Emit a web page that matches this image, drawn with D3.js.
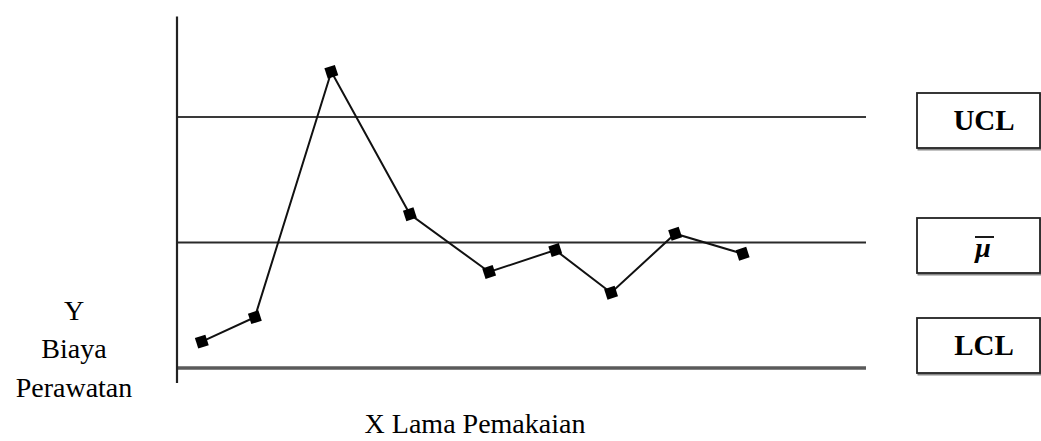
<!DOCTYPE html>
<html>
<head>
<meta charset="utf-8">
<script src="https://cdn.jsdelivr.net/npm/d3@7/dist/d3.min.js"></script>
<style>
  html, body { margin: 0; padding: 0; background: #fff; }
  svg { display: block; }
  text { font-family: "Liberation Serif", "Times New Roman", serif; fill: #000; }
</style>
</head>
<body>
<svg id="chart" width="1041" height="441"></svg>
<script>
// ---- data ----
const xValues = [3.6, 11.3, 22.4, 33.8, 45.3, 54.9, 63.0, 72.3, 82.1];
const yValues = [1.42, 1.81, 5.72, 3.45, 2.53, 2.88, 2.20, 3.14, 2.82];
const limitNames = ["UCL", "mean", "LCL"];
const limitValues = [5, 3, 1];
const limitLabels = ["UCL", "μ", "LCL"];
const xDomain = [0, 100];
const yAxisExtent = [0.76, 6.6];
const yLabelLines = ["Y", "Biaya", "Perawatan"];
const xLabel = "X Lama Pemakaian";

// ---- layout ----
const svg = d3.select("#chart");
const x = d3.scaleLinear().domain(xDomain).range([177, 866]);
const y = d3.scaleLinear().domain([1, 5]).range([368, 117]);

// control limit lines
const limStyle = {
  UCL: { stroke: "#3a3a3a", width: 2 },
  mean: { stroke: "#2a2a2a", width: 2 },
  LCL: { stroke: "#5a5a5a", width: 3.5 }
};
svg.append("g").selectAll("line")
  .data(limitNames.map((n, i) => ({ name: n, v: limitValues[i] })))
  .join("line")
  .attr("x1", x(xDomain[0])).attr("x2", x(xDomain[1]))
  .attr("y1", d => y(d.v)).attr("y2", d => y(d.v))
  .attr("stroke", d => limStyle[d.name].stroke)
  .attr("stroke-width", d => limStyle[d.name].width);

// y axis line (no ticks)
const yAxis = d3.axisLeft(y.copy().domain(yAxisExtent).range([383, 16])).ticks(0).tickSizeOuter(0);
const ya = svg.append("g").attr("transform", `translate(${x(xDomain[0])},0)`).call(yAxis);
ya.select(".domain").attr("d", `M0,${y(yAxisExtent[0])}V${y(yAxisExtent[1])}`)
  .attr("stroke", "#222").attr("stroke-width", 2.2);

// data line
const pts = xValues.map((v, i) => [x(v), y(yValues[i])]);
svg.append("path")
  .attr("d", d3.line()(pts))
  .attr("fill", "none").attr("stroke", "#111").attr("stroke-width", 2);

// markers
svg.append("g").selectAll("rect")
  .data(pts).join("rect")
  .attr("x", -5.5).attr("y", -5.5).attr("width", 11).attr("height", 11)
  .attr("transform", d => `translate(${d[0]},${d[1]}) rotate(-18)`)
  .attr("fill", "#000");

// label boxes
const boxTops = { UCL: 93, mean: 218, LCL: 318 };
const boxX = 917, boxW = 123, boxH = 55;
const boxes = svg.append("g").selectAll("g")
  .data(limitNames.map((n, i) => ({ name: n, label: limitLabels[i] })))
  .join("g")
  .attr("transform", d => `translate(${boxX},${boxTops[d.name]})`);
boxes.append("rect")
  .attr("x", 1.5).attr("y", 1.5).attr("width", boxW).attr("height", boxH)
  .attr("fill", "none").attr("stroke", "#888").attr("stroke-width", 2);
boxes.append("rect")
  .attr("x", 0).attr("y", 0).attr("width", boxW).attr("height", boxH)
  .attr("fill", "#fff").attr("stroke", "#222").attr("stroke-width", 1.8);
boxes.append("text")
  .attr("x", d => d.name === "mean" ? 66 : 67)
  .attr("y", d => d.name === "mean" ? 39 : 37)
  .attr("text-anchor", "middle")
  .attr("font-size", d => d.name === "mean" ? 28 : 29)
  .attr("font-weight", "bold")
  .attr("font-style", d => d.name === "mean" ? "italic" : "normal")
  .text(d => d.label);
boxes.filter(d => d.name === "mean").append("line")
  .attr("x1", 58).attr("x2", 77).attr("y1", 19).attr("y2", 19)
  .attr("stroke", "#000").attr("stroke-width", 1.8);

// y label
svg.append("text")
  .attr("x", 74).attr("y", 320)
  .attr("text-anchor", "middle").attr("font-size", 28)
  .selectAll("tspan").data(yLabelLines).join("tspan")
  .attr("x", 74).attr("y", (d, i) => [320, 358, 397][i])
  .text(d => d);

// x label
svg.append("text")
  .attr("x", 475).attr("y", 433)
  .attr("text-anchor", "middle").attr("font-size", 28)
  .text(xLabel);
</script>
</body>
</html>
